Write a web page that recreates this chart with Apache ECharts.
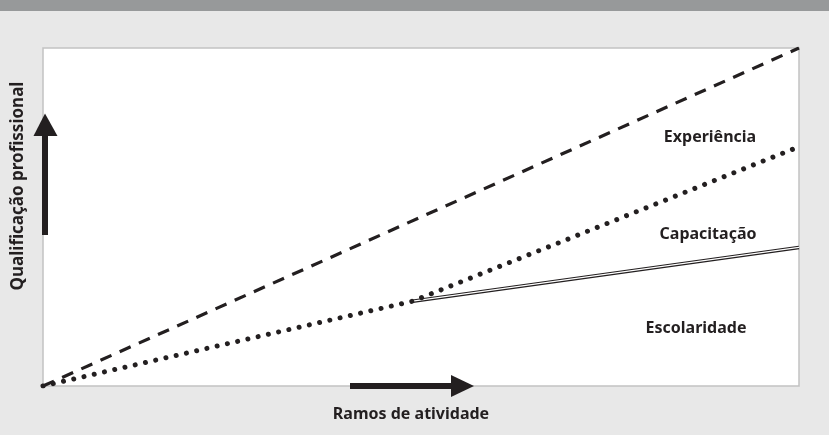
<!DOCTYPE html>
<html>
<head>
<meta charset="utf-8">
<script src="https://cdn.jsdelivr.net/npm/echarts@6/dist/echarts.min.js"></script>
<style>
html,body{margin:0;padding:0;background:#e8e8e8;}
#c{width:829px;height:435px;}
</style>
</head>
<body>
<div id="c"></div>
<script>
// Conceptual chart: qualification vs. activity branches (normalised 0..1 scale)
const experienciaLine = [[0, 0], [1, 1]];
const capacitacaoLine = [[0, 0], [0.489, 0.251], [1, 0.708]];
const escolaridadeLine = [[0.489, 0.251], [1, 0.41]];
const seriesLabels = ['Experiência', 'Capacitação', 'Escolaridade'];
const xAxisTitle = 'Ramos de atividade';
const yAxisTitle = 'Qualificação profissional';

const ink = '#231f20';
const font = '"Noto Sans", "Open Sans", sans-serif';

const chart = echarts.init(document.getElementById('c'), null, {renderer: 'canvas'});
chart.setOption({
  backgroundColor: '#e8e8e8',
  animation: false,
  grid: {
    left: 43, right: 30, top: 48, bottom: 49,
    show: true, backgroundColor: '#ffffff', borderColor: '#c2c2c2', borderWidth: 1.5
  },
  xAxis: {
    type: 'value', min: 0, max: 1,
    axisLine: {show: false}, axisTick: {show: false}, axisLabel: {show: false}, splitLine: {show: false}
  },
  yAxis: {
    type: 'value', min: 0, max: 1,
    axisLine: {show: false}, axisTick: {show: false}, axisLabel: {show: false}, splitLine: {show: false}
  },
  series: [
    {
      name: seriesLabels[0], type: 'line', data: experienciaLine, symbol: 'none', z: 3,
      lineStyle: {color: ink, width: 3.2, type: [12, 9]}
    },
    {
      name: seriesLabels[2] + '-outer', type: 'line', data: escolaridadeLine, symbol: 'none', z: 2,
      lineStyle: {color: ink, width: 3.6, type: 'solid'}
    },
    {
      name: seriesLabels[2] + '-inner', type: 'line', data: escolaridadeLine, symbol: 'none', z: 2,
      lineStyle: {color: '#ffffff', width: 1.2, type: 'solid'}
    },
    {
      name: seriesLabels[1], type: 'line', data: capacitacaoLine, symbol: 'none', z: 4,
      lineStyle: {color: ink, width: 5, type: [0.01, 10.5], cap: 'round'}
    }
  ],
  graphic: [
    {type: 'rect', shape: {x: 0, y: 0, width: 829, height: 11}, style: {fill: '#97999a'}, z: 10},
    // horizontal arrow
    {type: 'rect', shape: {x: 350, y: 383, width: 103, height: 6}, style: {fill: ink}, z: 20},
    {type: 'polygon', shape: {points: [[451, 375], [474, 386], [451, 397]]}, style: {fill: ink}, z: 20},
    // vertical arrow
    {type: 'rect', shape: {x: 42, y: 134, width: 6, height: 101}, style: {fill: ink}, z: 20},
    {type: 'polygon', shape: {points: [[33.5, 136], [45, 113.5], [57.5, 136]]}, style: {fill: ink}, z: 20},
    // texts
    {type: 'text', x: 710, y: 137, z: 30, style: {text: seriesLabels[0], fill: ink, font: 'bold 16px ' + font, align: 'center', verticalAlign: 'middle'}},
    {type: 'text', x: 708, y: 234, z: 30, style: {text: seriesLabels[1], fill: ink, font: 'bold 16px ' + font, align: 'center', verticalAlign: 'middle'}},
    {type: 'text', x: 696, y: 328, z: 30, style: {text: seriesLabels[2], fill: ink, font: 'bold 16px ' + font, align: 'center', verticalAlign: 'middle'}},
    {type: 'text', x: 411, y: 414, z: 30, style: {text: xAxisTitle, fill: ink, font: 'bold 16px ' + font, align: 'center', verticalAlign: 'middle'}},
    {type: 'text', x: 18, y: 186, rotation: Math.PI / 2, z: 30, style: {text: yAxisTitle, fill: ink, font: 'bold 17px ' + font, align: 'center', verticalAlign: 'middle'}}
  ]
});
</script>
</body>
</html>
